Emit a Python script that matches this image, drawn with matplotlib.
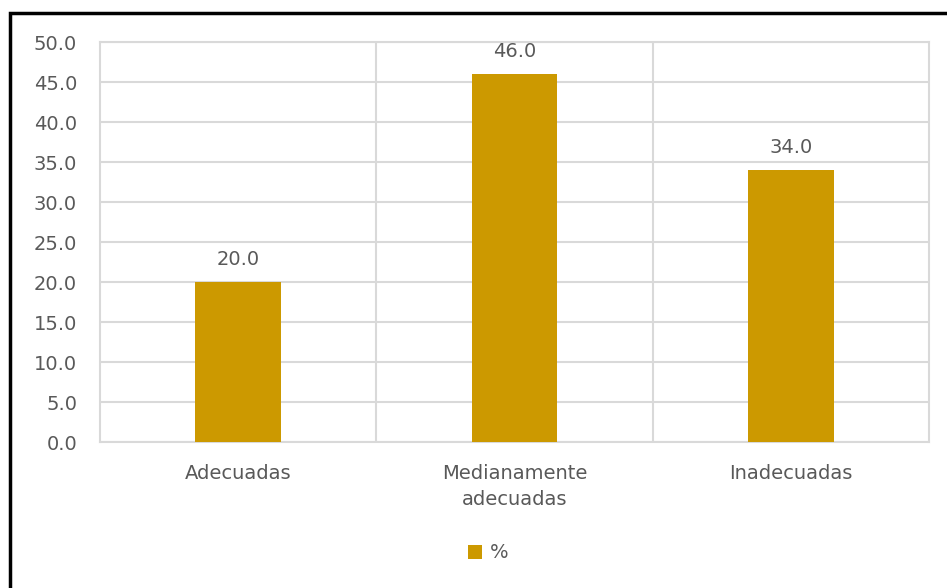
import numpy as np
import matplotlib.pyplot as plt
from matplotlib.patches import Rectangle

categories = ["Adecuadas", "Medianamente\nadecuadas", "Inadecuadas"]
values = [20.0, 46.0, 34.0]
series_name = "%"

bar_color = "#CC9900"
text_color = "#595959"
grid_color = "#D9D9D9"

plt.rcParams['font.family'] = ['DejaVu Sans']

fig = plt.figure(figsize=(9.47, 5.88), dpi=100)
ax = fig.add_axes([100/947, 1 - 442/588, 829/947, 400/588])

x = np.arange(len(categories))
bars = ax.bar(x, values, width=0.31, color=bar_color, label=series_name, zorder=3)

for xi, v in zip(x, values):
    ax.text(xi, v + 2.1, f"{v:.1f}", ha='center', va='baseline', fontsize=14, color=text_color)

ax.set_xlim(-0.5, len(categories) - 0.5)
ax.set_ylim(0, 50)
ax.set_yticks(np.arange(0, 50.1, 5))
ax.set_yticklabels([f"{t:.1f}" for t in np.arange(0, 50.1, 5)])
ax.set_xticks(x)
ax.set_xticklabels(categories, linespacing=1.45)
ax.set_xticks(np.arange(0.5, len(categories) - 0.5, 1), minor=True)

ax.tick_params(axis='both', length=0, labelsize=14, labelcolor=text_color)
ax.tick_params(axis='x', pad=16)
ax.tick_params(axis='y', pad=16.5)
ax.tick_params(which='minor', length=0)

ax.grid(axis='y', which='major', color=grid_color, linewidth=1.5, zorder=0)
ax.grid(axis='x', which='minor', color=grid_color, linewidth=1.5, zorder=0)
for s in ax.spines.values():
    s.set_color(grid_color)
    s.set_linewidth(1.5)

leg = fig.legend(loc='center', bbox_to_anchor=(488/947, 1 - 553/588), frameon=False,
                 fontsize=14, handlelength=0.7, handleheight=0.7, handletextpad=0.4)
for t in leg.get_texts():
    t.set_color(text_color)

# outer border (left and top edges visible)
fig.patches.append(Rectangle((10/947, -0.1), 1.2, 1 - 13/588 + 0.1, transform=fig.transFigure,
                             fill=False, edgecolor='black', linewidth=2.5))

fig.savefig("out.png", dpi=100)
